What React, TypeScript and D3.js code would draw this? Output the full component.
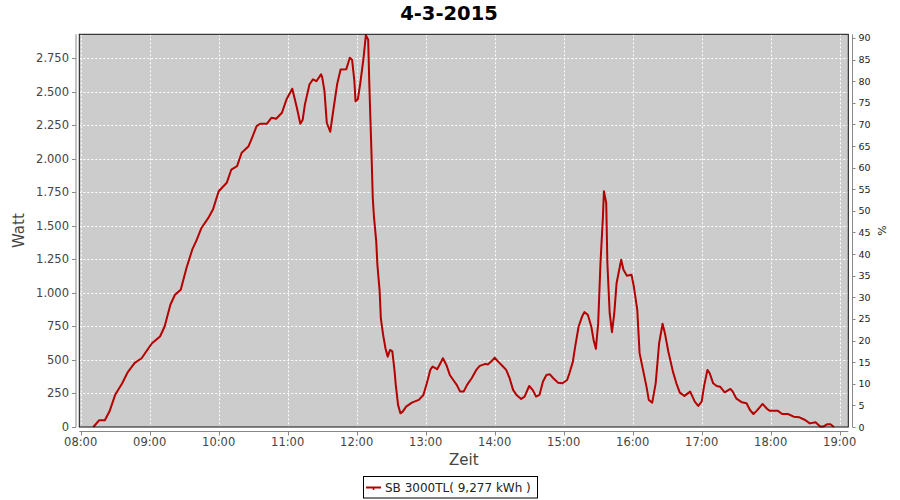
import React from "react";
import * as d3 from "d3";

const title = "4-3-2015";
const seriesName = "SB 3000TL( 9,277 kWh )";
const xTickLabels = ["08:00","09:00","10:00","11:00","12:00","13:00","14:00","15:00","16:00","17:00","18:00","19:00"];
const wattTicks = [0,250,500,750,1000,1250,1500,1750,2000,2250,2500,2750];
const pctTicks = [0,5,10,15,20,25,30,35,40,45,50,55,60,65,70,75,80,85,90];

const times = ["08:11","08:16","08:21","08:25","08:30","08:36","08:41","08:47","08:53","08:57","09:02","09:09","09:13","09:18","09:22","09:27","09:32","09:37","09:41","09:45","09:51","09:55","10:00","10:07","10:11","10:16","10:20","10:26","10:29","10:33","10:36","10:42","10:46","10:50","10:55","10:59","11:04","11:08","11:11","11:13","11:15","11:19","11:22","11:25","11:29","11:30","11:32","11:34","11:37","11:40","11:43","11:46","11:51","11:54","11:56","11:58","11:59","12:01","12:03","12:06","12:08","12:10","12:11","12:12","12:13","12:14","12:15","12:17","12:18","12:20","12:21","12:23","12:25","12:27","12:29","12:31","12:33","12:34","12:36","12:38","12:40","12:43","12:48","12:54","12:58","13:01","13:04","13:06","13:10","13:12","13:15","13:18","13:21","13:24","13:27","13:30","13:33","13:36","13:40","13:44","13:47","13:52","13:54","13:57","14:00","14:03","14:06","14:10","14:13","14:16","14:19","14:23","14:26","14:30","14:33","14:36","14:39","14:42","14:45","14:48","14:51","14:55","14:59","15:03","15:05","15:08","15:10","15:13","15:16","15:18","15:21","15:24","15:26","15:28","15:30","15:32","15:34","15:35","15:37","15:38","15:40","15:42","15:44","15:46","15:50","15:52","15:55","15:59","16:01","16:04","16:06","16:09","16:12","16:14","16:17","16:20","16:23","16:26","16:28","16:31","16:35","16:38","16:41","16:45","16:50","16:54","16:57","17:00","17:02","17:05","17:07","17:10","17:13","17:16","17:20","17:25","17:27","17:30","17:35","17:39","17:42","17:45","17:48","17:53","17:57","17:59","18:06","18:10","18:15","18:20","18:25","18:30","18:34","18:39","18:43","18:46","18:49","18:52","18:55"];
const watts = [0,50,50,115,240,325,410,478,513,563,625,675,750,912,987,1024,1186,1323,1398,1485,1560,1622,1759,1822,1921,1946,2046,2095,2158,2245,2263,2263,2308,2300,2345,2445,2524,2382,2263,2290,2407,2557,2594,2580,2631,2610,2506,2270,2203,2382,2557,2668,2670,2755,2740,2580,2431,2445,2557,2755,2924,2890,2557,2282,2008,1709,1572,1385,1211,1011,812,687,588,525,575,565,413,314,165,102,115,152,182,202,239,326,426,451,431,463,513,463,388,351,314,264,264,314,364,426,456,471,466,488,518,488,463,426,364,277,239,209,227,306,277,227,240,339,388,393,364,331,326,351,401,488,600,750,824,857,837,750,650,583,775,1223,1547,1759,1672,1223,849,707,849,1073,1248,1173,1128,1136,1048,874,551,426,301,202,182,326,625,770,700,563,413,326,256,232,264,189,157,189,301,426,401,326,306,301,259,284,264,214,184,177,127,97,122,172,134,122,122,97,97,77,72,52,27,35,4,4,20,20,0];

const toMin = (s: string) => { const [h, m] = s.split(":").map(Number); return h * 60 + m; };

const W = 900, H = 500;
const pL = 79.3, pR = 848.3, pT = 34.3, pB = 427;

export default function App() {
  const x = d3.scaleLinear().domain([478.8, 1147.5]).range([pL, pR]);
  const y = d3.scaleLinear().domain([0, 2930]).range([pB, pT]);
  const y2 = d3.scaleLinear().domain([0, 90.85]).range([pB, pT]);
  const loc = d3.formatLocale({ decimal: ",", thousands: ".", grouping: [3], currency: ["", "€"] });
  const fmt = loc.format(",d");
  const data = times.map((t, i) => [toMin(t), watts[i]] as [number, number]);
  const line = d3.line<[number, number]>().x(d => x(d[0])).y(d => y(d[1]));
  const font = "'DejaVu Sans', sans-serif";
  const axisColor = "#888";
  const textColor = "#444";
  const leftAxisX = 76;
  const bottomAxisY = 431.5;
  const rightAxisX = 852.5;
  return (
    <svg width={W} height={H} style={{ position: "absolute", left: 0, top: 0, background: "#fff" }} fontFamily={font}>
      <text x={449} y={20} textAnchor="middle" fontSize={19.5} fontWeight="bold" fill="#000">{title}</text>
      <rect x={pL} y={pT} width={pR - pL} height={pB - pT} fill="#cccccc" />
      {wattTicks.filter(v => v > 0).map(v => (
        <line key={"hg" + v} x1={pL} x2={pR} y1={Math.round(y(v)) + 0.5} y2={Math.round(y(v)) + 0.5} stroke="#fff" strokeDasharray="2,2" />
      ))}
      {xTickLabels.map(t => (
        <line key={"vg" + t} x1={Math.round(x(toMin(t))) + 0.5} x2={Math.round(x(toMin(t))) + 0.5} y1={pT} y2={pB} stroke="#fff" strokeDasharray="2,2" />
      ))}
      <path d={line(data) || ""} fill="none" stroke="#b50000" strokeWidth={2} strokeLinejoin="round" />
      <rect x={pL} y={pT} width={pR - pL} height={pB - pT} fill="none" stroke="#111" strokeWidth={1} />
      {/* left axis */}
      <line x1={leftAxisX} x2={leftAxisX} y1={pT} y2={pB} stroke={axisColor} />
      {wattTicks.map(v => (
        <g key={"lt" + v}>
          <line x1={leftAxisX - 4} x2={leftAxisX} y1={Math.round(y(v)) + 0.5} y2={Math.round(y(v)) + 0.5} stroke={axisColor} />
          <text x={leftAxisX - 7} y={y(v) + 4} textAnchor="end" fontSize={11.5} fill={textColor}>{fmt(v)}</text>
        </g>
      ))}
      <text transform={`translate(24,${(pT + pB) / 2}) rotate(-90)`} textAnchor="middle" fontSize={15} fill={textColor}>Watt</text>
      {/* bottom axis */}
      <line x1={pL} x2={pR} y1={bottomAxisY} y2={bottomAxisY} stroke={axisColor} />
      {xTickLabels.map(t => (
        <g key={"bt" + t}>
          <line x1={Math.round(x(toMin(t))) + 0.5} x2={Math.round(x(toMin(t))) + 0.5} y1={bottomAxisY} y2={bottomAxisY + 4} stroke={axisColor} />
          <text x={x(toMin(t))} y={446} textAnchor="middle" fontSize={11.5} fill={textColor}>{t}</text>
        </g>
      ))}
      <text x={(pL + pR) / 2} y={465} textAnchor="middle" fontSize={15} fill={textColor}>Zeit</text>
      {/* right axis */}
      <line x1={rightAxisX} x2={rightAxisX} y1={pT} y2={pB} stroke={axisColor} />
      {pctTicks.map(v => (
        <g key={"rt" + v}>
          <line x1={rightAxisX} x2={rightAxisX + 3} y1={Math.round(y2(v)) + 0.5} y2={Math.round(y2(v)) + 0.5} stroke={axisColor} />
          <text x={rightAxisX + 6} y={y2(v) + 3.5} fontSize={9.5} fill="#222">{v}</text>
        </g>
      ))}
      <text transform={`translate(886,${(pT + pB) / 2}) rotate(-90)`} textAnchor="middle" fontSize={11} fill="#222">%</text>
      {/* legend */}
      <rect x={363.5} y={476.5} width={174} height={21.5} fill="#fff" stroke="#000" />
      <line x1={366} x2={381} y1={487.5} y2={487.5} stroke="#b50000" strokeWidth={2} />
      <line x1={373.5} x2={373.5} y1={487.5} y2={490} stroke="#b50000" strokeWidth={1.5} />
      <text x={385} y={491.5} fontSize={12} fill="#222">{seriesName}</text>
    </svg>
  );
}
